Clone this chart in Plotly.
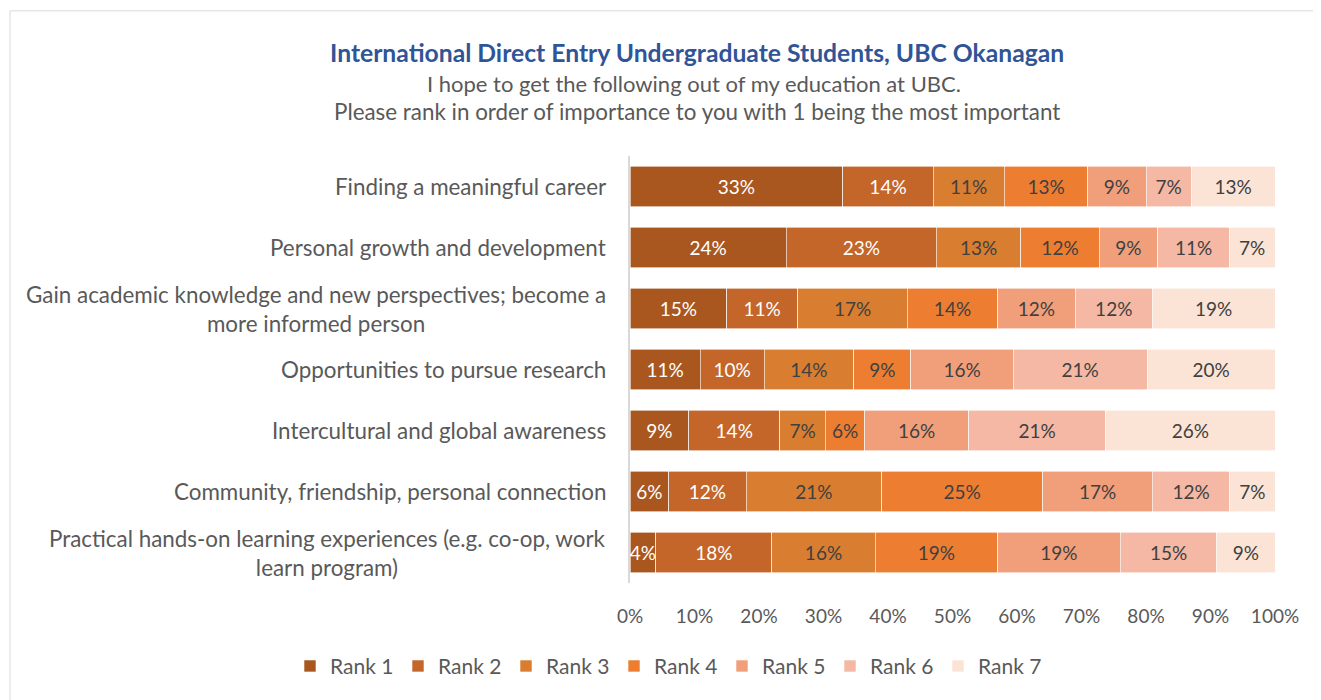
import plotly.graph_objects as go

categories = [
    "Finding a meaningful career",
    "Personal growth and development",
    "Gain academic knowledge and new perspectives; become a<br>more informed person",
    "Opportunities to pursue research",
    "Intercultural and global awareness",
    "Community, friendship, personal connection",
    "Practical hands-on learning experiences (e.g. co-op, work<br>learn program)",
]
rank1 = [33, 24, 15, 11, 9, 6, 4]
rank2 = [14, 23, 11, 10, 14, 12, 18]
rank3 = [11, 13, 17, 14, 7, 21, 16]
rank4 = [13, 12, 14, 9, 6, 25, 19]
rank5 = [9, 9, 12, 16, 16, 17, 19]
rank6 = [7, 11, 12, 21, 21, 12, 15]
rank7 = [13, 7, 19, 20, 26, 7, 9]
series_names = ["Rank 1", "Rank 2", "Rank 3", "Rank 4", "Rank 5", "Rank 6", "Rank 7"]
x_ticks = [0, 10, 20, 30, 40, 50, 60, 70, 80, 90, 100]

series = [rank1, rank2, rank3, rank4, rank5, rank6, rank7]
colors = ["#A9571F", "#C4652A", "#D97D30", "#ED7D31", "#F19F7B", "#F4B8A4", "#FBE4D6"]
text_colors = ["#FFFFFF", "#FFFFFF", "#404040", "#404040", "#404040", "#404040", "#404040"]

FONT = "Lato, 'Open Sans', sans-serif"
OFF = 8  # browser body margin
W, H = 1321 - OFF, 700 - OFF
ML, MR = 630 - OFF, W - (1275 - OFF)
MT = 155.5 - OFF
MB = H - (583.5 - OFF)
PW, PH = W - ML - MR, H - MT - MB


def px_x(p):
    return (p - OFF - ML) / PW


def px_y(p):
    return (H - MB - (p - OFF)) / PH


fig = go.Figure()
for name, vals, c, tc in zip(series_names, series, colors, text_colors):
    fig.add_trace(go.Bar(
        name=name, y=categories, x=vals, orientation="h",
        marker=dict(color=c, line=dict(color="#FFFFFF", width=0.6)),
        text=[f"{v}%" for v in vals], textposition="inside", textangle=0,
        insidetextanchor="middle",
        textfont=dict(family=FONT, size=19, color=tc),
        hoverinfo="skip",
    ))

# category labels as centered multi-line annotations
for cat in categories:
    fig.add_annotation(
        x=0, xref="paper", y=cat, yref="y", xanchor="right", xshift=-22,
        text=cat, showarrow=False, align="center",
        font=dict(family=FONT, size=22.4, color="#595959"),
    )

fig.add_annotation(x=px_x(697), y=px_y(52), xref="paper", yref="paper",
                   xanchor="center", yanchor="middle",
                   text="<b>International Direct Entry Undergraduate Students, UBC Okanagan</b>",
                   showarrow=False, font=dict(family=FONT, size=24.7, color="#2F5597"))
fig.add_annotation(x=px_x(694), y=px_y(83), xref="paper", yref="paper",
                   xanchor="center", yanchor="middle",
                   text="I hope to get the following out of my education at UBC.",
                   showarrow=False, font=dict(family=FONT, size=22, color="#595959"))
fig.add_annotation(x=px_x(697), y=px_y(111), xref="paper", yref="paper",
                   xanchor="center", yanchor="middle",
                   text="Please rank in order of importance to you with 1 being the most important",
                   showarrow=False, font=dict(family=FONT, size=22.4, color="#595959"))

# chart border
fig.add_shape(type="rect", xref="paper", yref="paper",
              x0=px_x(10), x1=px_x(1340), y0=px_y(720), y1=px_y(10),
              line=dict(color="#D9D9D9", width=1), fillcolor="rgba(0,0,0,0)", layer="below")

fig.update_layout(
    width=W, height=H,
    margin=dict(l=ML, r=MR, t=MT, b=MB),
    barmode="stack", barnorm="percent", bargap=0.33,
    plot_bgcolor="#FFFFFF", paper_bgcolor="#FFFFFF",
    uniformtext=dict(minsize=19, mode="show"),
    showlegend=True,
    legend=dict(orientation="h", xref="paper", x=px_x(290), xanchor="left",
                yref="paper", y=px_y(667), yanchor="middle",
                font=dict(family=FONT, size=21, color="#595959"),
                entrywidth=63, entrywidthmode="pixels",
                itemwidth=30, traceorder="normal"),
    font=dict(family=FONT),
)
fig.update_xaxes(range=[0, 100], tickvals=x_ticks, ticktext=[f"{t}%" for t in x_ticks],
                 showgrid=False, zeroline=False, showline=False,
                 tickfont=dict(family=FONT, size=19, color="#595959"),
                 ticklabelstandoff=20, fixedrange=True)
fig.update_yaxes(autorange="reversed", showticklabels=False, showgrid=False,
                 zeroline=False, showline=True, linecolor="#D9D9D9", linewidth=2,
                 ticks="", fixedrange=True)

fig.write_html("out.html")
